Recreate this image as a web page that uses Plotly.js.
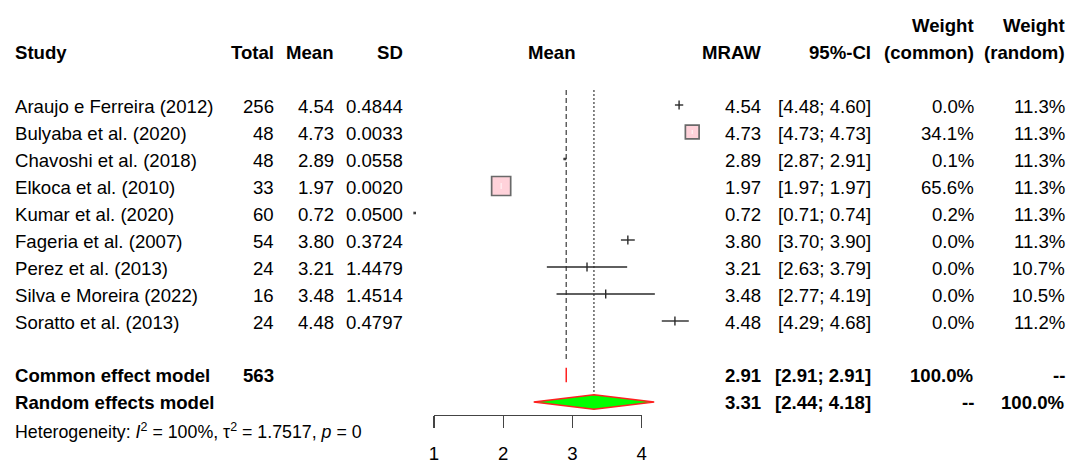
<!DOCTYPE html>
<html>
<head>
<meta charset="utf-8">
<script src="https://cdn.plot.ly/plotly-3.0.1.min.js"></script>
<style>html,body{margin:0;padding:0;background:#fff;}#chart{width:1071px;height:464px;}</style>
</head>
<body>
<div id="chart"></div>
<script>
// ---- data ----
var studies = ["Araujo e Ferreira (2012)", "Bulyaba et al. (2020)", "Chavoshi et al. (2018)", "Elkoca et al. (2010)", "Kumar et al. (2020)", "Fageria et al. (2007)", "Perez et al. (2013)", "Silva e Moreira (2022)", "Soratto et al. (2013)"];
var total = [256, 48, 48, 33, 60, 54, 24, 16, 24];
var meanVal = [4.54, 4.73, 2.89, 1.97, 0.72, 3.80, 3.21, 3.48, 4.48];
var sdText = ["0.4844", "0.0033", "0.0558", "0.0020", "0.0500", "0.3724", "1.4479", "1.4514", "0.4797"];
var ciLow = [4.48, 4.73, 2.87, 1.97, 0.71, 3.70, 2.63, 2.77, 4.29];
var ciHigh = [4.60, 4.73, 2.91, 1.97, 0.74, 3.90, 3.79, 4.19, 4.68];
var wCommon = [0.0, 34.1, 0.1, 65.6, 0.2, 0.0, 0.0, 0.0, 0.0];
var wRandom = [11.3, 11.3, 11.3, 11.3, 11.3, 11.3, 10.7, 10.5, 11.2];
var commonModel = {label: "Common effect model", total: 563, est: 2.91, lo: 2.91, hi: 2.91, wc: "100.0%", wr: "--"};
var randomModel = {label: "Random effects model", total: null, est: 3.31, lo: 2.44, hi: 4.18, wc: "--", wr: "100.0%"};
var hetText = "Heterogeneity: <i>I</i><sup>2</sup> = 100%, \u03c4<sup>2</sup> = 1.7517, <i>p</i> = 0";
var tickVals = [1, 2, 3, 4];

// ---- layout helpers ----
var W = 1071, H = 464;
var FONT = "Liberation Sans, Arial, sans-serif";
var FS = 18.6;
function px(x) { return x / W; }
var rows = studies.map(function (s, i) { return i; });
var rowCommon = studies.length + 1, rowRandom = studies.length + 2, rowHet = studies.length + 3;
var rowHeader = -1.95, rowHeader2 = -2.95;

var ann = [];
function txt(x, y, t, anchor, bold, size) {
  ann.push({xref: "paper", yref: "y", x: px(x), y: y, text: bold ? "<b>" + t + "</b>" : t,
    showarrow: false, xanchor: anchor, yanchor: "middle",
    font: {family: FONT, size: size || FS, color: "#000"}});
}
var colStudy = 13, colTotal = 276, colMean = 336, colSD = 405, colPlotHead = 552;
var colMRAW = 763, colCI = 873, colWC = 976, colWR = 1067;
var dy = 0.06;

// headers
txt(colStudy, rowHeader, "Study", "left", true);
txt(colTotal, rowHeader, "Total", "right", true);
txt(colMean, rowHeader, "Mean", "right", true);
txt(colSD, rowHeader, "SD", "right", true);
txt(colPlotHead, rowHeader, "Mean", "center", true);
txt(colMRAW, rowHeader, "MRAW", "right", true);
txt(colCI, rowHeader, "95%-CI", "right", true);
txt(colWC, rowHeader2, "Weight", "right", true);
txt(colWR, rowHeader2, "Weight", "right", true);
txt(colWC, rowHeader, "(common)", "right", true);
txt(colWR, rowHeader, "(random)", "right", true);

function f2(v) { return v.toFixed(2); }
function ci(lo, hi) { return "[" + f2(lo) + "; " + f2(hi) + "]"; }
studies.forEach(function (s, i) {
  txt(colStudy, i + dy, s, "left");
  txt(colTotal, i + dy, String(total[i]), "right");
  txt(colMean, i + dy, f2(meanVal[i]), "right");
  txt(colSD, i + dy, sdText[i], "right");
  txt(colMRAW, i + dy, f2(meanVal[i]), "right");
  txt(colCI, i + dy, ci(ciLow[i], ciHigh[i]), "right");
  txt(colWC, i + dy, wCommon[i].toFixed(1) + "%", "right");
  txt(colWR, i + dy, wRandom[i].toFixed(1) + "%", "right");
});
[[commonModel, rowCommon], [randomModel, rowRandom]].forEach(function (p) {
  var m = p[0], r = p[1];
  txt(colStudy, r, m.label, "left", true);
  if (m.total !== null) txt(colTotal, r, String(m.total), "right", true);
  txt(colMRAW, r, f2(m.est), "right", true);
  txt(colCI, r, ci(m.lo, m.hi), "right", true);
  txt(colWC, r, m.wc, "right", true);
  txt(colWR, r, m.wr, "right", true);
});
txt(colStudy, rowHet + 0.08, hetText, "left", false, 17.8);

// ---- traces ----
var LINE = "#2a2a2a";
var ciX = [], ciY = [];
studies.forEach(function (s, i) { ciX.push(ciLow[i], ciHigh[i], null); ciY.push(i, i, null); });
var tCI = {type: "scatter", mode: "lines", x: ciX, y: ciY, line: {color: LINE, width: 1.4},
  hoverinfo: "skip"};

var sqIdx = rows.filter(function (i) { return wCommon[i] >= 0.05; });
var tSq = {type: "scatter", mode: "markers", x: sqIdx.map(function (i) { return meanVal[i]; }),
  y: sqIdx, hoverinfo: "skip",
  marker: {symbol: "square", color: "#FFC0CB",
    size: sqIdx.map(function (i) { return Math.max(1, 2.35 * Math.sqrt(wCommon[i])); }),
    line: {color: "#2a2a2a", width: 1.7}}};
var bigIdx = sqIdx.filter(function (i) { return wCommon[i] >= 5; });
var tInner = {type: "scatter", mode: "markers", x: bigIdx.map(function (i) { return meanVal[i]; }),
  y: bigIdx, hoverinfo: "skip",
  marker: {symbol: "line-ns", size: bigIdx.map(function (i) { return 0.22 * 2.35 * Math.sqrt(wCommon[i]); }),
    line: {color: "#fff", width: 1.2}}};
var tickIdx = rows.filter(function (i) { return wCommon[i] < 0.05; });
var tTick = {type: "scatter", mode: "markers", x: tickIdx.map(function (i) { return meanVal[i]; }),
  y: tickIdx, hoverinfo: "skip",
  marker: {symbol: "line-ns", size: 6.5, line: {color: LINE, width: 1.4}}};

var DH = 0.27;
function diamond(m, r) {
  return {type: "scatter", mode: "lines", fill: "toself", fillcolor: "#00ff00",
    x: [m.lo, m.est, m.hi, m.est, m.lo], y: [r, r - DH, r, r + DH, r],
    line: {color: "#ff2020", width: 1.5}, hoverinfo: "skip"};
}

var topRow = -0.56;
var tRefCommon = {type: "scatter", mode: "lines", x: [commonModel.est, commonModel.est],
  y: [topRow, rowCommon - 0.5], line: {color: "#555", width: 1.4, dash: "5px,3px"}, hoverinfo: "skip"};
var tRefRandom = {type: "scatter", mode: "lines", x: [randomModel.est, randomModel.est],
  y: [topRow, rowRandom - DH], line: {color: "#555", width: 1.4, dash: "2px,2px"}, hoverinfo: "skip"};
// invisible trace that carries the visible 1-4 axis
var tAxis = {type: "scatter", mode: "markers", x: [tickVals[0], tickVals[tickVals.length - 1]],
  y: [rowCommon, rowCommon], xaxis: "x2", yaxis: "y", marker: {opacity: 0}, hoverinfo: "skip"};

var data = [tRefCommon, tRefRandom, tCI, tSq, tInner, tTick, diamond(commonModel, rowCommon), diamond(randomModel, rowRandom), tAxis];

// x scale: value 1 at 434 px, value 4 at 641.7 px
var axL = 434, axR = 641.7, lo = tickVals[0], hi = tickVals[tickVals.length - 1];
var ppu = (axR - axL) / (hi - lo);
var rowPx = 27, row0 = 105;
var layout = {
  width: W, height: H, margin: {l: 0, r: 0, t: 0, b: 0},
  paper_bgcolor: "#fff", plot_bgcolor: "rgba(0,0,0,0)", showlegend: false,
  xaxis: {domain: [0, 1], range: [lo - axL / ppu, hi + (W - axR) / ppu], visible: false,
    showticklabels: false, showgrid: false, zeroline: false, fixedrange: true},
  xaxis2: {domain: [px(axL), px(axR)], range: [lo, hi], tickvals: tickVals,
    ticks: "outside", ticklen: 12, tickwidth: 1.3, tickcolor: "#444",
    showline: true, linecolor: "#444", linewidth: 1.3, showgrid: false, zeroline: false,
    anchor: "free", position: (H - 415) / H, side: "bottom",
    tickfont: {family: FONT, size: FS, color: "#000"}, ticklabelstandoff: 9, fixedrange: true},
  yaxis: {domain: [0, 1], range: [(H - row0) / rowPx, -row0 / rowPx], visible: false,
    showticklabels: false, showgrid: false, zeroline: false, fixedrange: true},
  annotations: ann
};
Plotly.newPlot("chart", data, layout, {staticPlot: true, displayModeBar: false});
</script>
</body>
</html>
